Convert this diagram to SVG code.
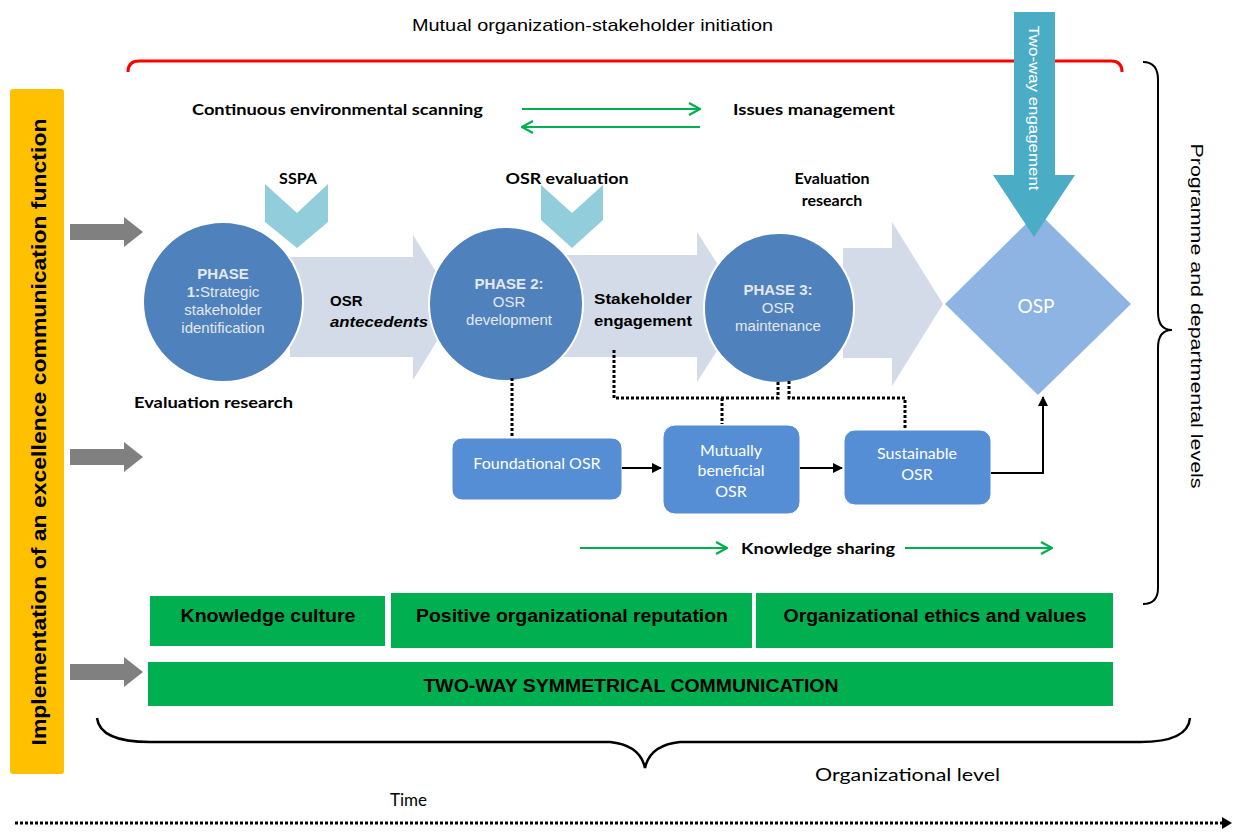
<svg xmlns="http://www.w3.org/2000/svg" width="1234" height="834" viewBox="0 0 1234 834">
<defs>
<style>
.ar{font-family:"Liberation Sans",Arial,sans-serif}
.ca{font-family:Lato,Carlito,"Liberation Sans",sans-serif}
.b{font-weight:bold}
.ph{fill:#e4e8ee;font-size:15px;text-anchor:middle}
.bx{fill:#ffffff;font-size:16px;text-anchor:middle}
.gb{fill:#00b050}
.gt{font-size:18px;font-weight:bold;fill:#000;text-anchor:middle}
.big{fill:#d3dbe8}
.circ{fill:#4f81bd;stroke:#ffffff;stroke-width:2}
.chev{fill:#92cddc}
.rb{fill:#558ed5;stroke:#ffffff;stroke-width:1}
.gray{fill:#808080}
.dot{fill:none;stroke:#000;stroke-width:3;stroke-dasharray:3 2}
.solid{fill:none;stroke:#000;stroke-width:2}
.green{fill:none;stroke:#00b050;stroke-width:2}
</style>
<marker id="ah" viewBox="0 0 10 10" refX="9" refY="5" markerWidth="5" markerHeight="5" orient="auto">
<path d="M0,0 L10,5 L0,10 z" fill="#000"/>
</marker>
<marker id="gh" viewBox="0 0 14 14" refX="13" refY="7" markerWidth="14" markerHeight="14" orient="auto" markerUnits="userSpaceOnUse">
<path d="M2,1 L13,7 L2,13" fill="none" stroke="#00b050" stroke-width="2.2"/>
</marker>
</defs>
<rect width="1234" height="834" fill="#ffffff"/>

<!-- top label and red bracket -->
<g id="mutual-initiation">
<text class="ar" x="412" y="31" font-size="17" textLength="361" lengthAdjust="spacingAndGlyphs">Mutual organization-stakeholder  initiation</text>
<path d="M128,72 Q128,61 139,61 L1111,61 Q1122,61 1122,72" fill="none" stroke="#ff0000" stroke-width="3"/>
</g>

<!-- left orange bar -->
<g id="implementation">
<rect x="10" y="89" width="54" height="685" rx="3" fill="#ffc000"/>
<text class="ar b" transform="translate(46,432) rotate(-90)" font-size="21" text-anchor="middle" textLength="627" lengthAdjust="spacingAndGlyphs">Implementation of  an excellence communication function</text>
</g>

<!-- gray arrows -->
<g id="gray-arrows">
<polygon class="gray" points="70,224 124,224 124,217 143,232 124,247 124,240 70,240"/>
<polygon class="gray" points="70,449 124,449 124,442 143,457 124,472 124,465 70,465"/>
<polygon class="gray" points="70,664 124,664 124,657 143,672 124,687 124,680 70,680"/>
</g>

<!-- scanning / issues -->
<g id="scanning">
<text class="ca b" x="192" y="115" font-size="16" textLength="291" lengthAdjust="spacingAndGlyphs">Continuous environmental scanning</text>
</g>
<g id="issues">
<text class="ca b" x="733" y="115" font-size="16" textLength="162" lengthAdjust="spacingAndGlyphs">Issues management</text>
</g>

<!-- large light arrows -->
<g id="flow-arrows">
<polygon class="big" points="290,257 413,257 413,235 458,307 413,380 413,357 290,357"/>
<polygon class="big" points="560,255 697,255 697,232 745,307 697,382 697,357 560,357"/>
<polygon class="big" points="843,248 892,248 892,222 943,304 892,386 892,358 843,358"/>
</g>

<!-- phases -->
<g id="phase1">
<circle class="circ" cx="223" cy="302" r="80"/>
<text class="ar ph" x="223" y="279"><tspan class="b">PHASE</tspan></text>
<text class="ar ph" x="223" y="297"><tspan class="b">1:</tspan>Strategic</text>
<text class="ar ph" x="223" y="315">stakeholder</text>
<text class="ar ph" x="223" y="333">identification</text>
</g>
<g id="phase2">
<circle class="circ" cx="506" cy="304" r="77"/>
<text class="ar ph b" x="509" y="289">PHASE 2:</text>
<text class="ar ph" x="509" y="307">OSR</text>
<text class="ar ph" x="509" y="325">development</text>
</g>
<g id="phase3">
<circle class="circ" cx="779" cy="308" r="75"/>
<text class="ar ph b" x="778" y="295">PHASE 3:</text>
<text class="ar ph" x="778" y="313">OSR</text>
<text class="ar ph" x="778" y="331">maintenance</text>
</g>

<!-- arrow labels -->
<g id="osr-antecedents">
<text class="ar b" x="330" y="306" font-size="15">OSR</text>
<text class="ar b" x="330" y="327" font-size="15" font-style="italic" textLength="98" lengthAdjust="spacingAndGlyphs">antecedents</text>
</g>
<g id="stakeholder-engagement">
<text class="ar b" x="594" y="304" font-size="15" textLength="98" lengthAdjust="spacingAndGlyphs">Stakeholder</text>
<text class="ar b" x="594" y="326" font-size="15" textLength="98" lengthAdjust="spacingAndGlyphs">engagement</text>
</g>

<!-- chevrons -->
<g id="sspa">
<polygon class="chev" points="265,184 297,213 328,184 328,222 297,248 265,222"/>
<text class="ca b" x="298" y="184" font-size="16" text-anchor="middle">SSPA</text>
</g>
<g id="osr-evaluation">
<polygon class="chev" points="541,185 572,213 603,185 603,220 572,248 541,220"/>
<text class="ca b" x="567" y="184" font-size="16" text-anchor="middle" textLength="123" lengthAdjust="spacingAndGlyphs">OSR evaluation</text>
</g>
<g id="evaluation-research-top">
<text class="ca b" x="832" y="184" font-size="16" text-anchor="middle">Evaluation</text>
<text class="ca b" x="832" y="206" font-size="16" text-anchor="middle">research</text>
</g>
<g id="evaluation-research-left">
<text class="ca b" x="134" y="408" font-size="16" textLength="159" lengthAdjust="spacingAndGlyphs">Evaluation research</text>
</g>

<!-- OSP diamond and two-way engagement -->
<g id="osp">
<polygon points="945,304 1038,212 1131,304 1038,395" fill="#8eb4e3"/>
<text class="ca" x="1036" y="313" font-size="19" fill="#ffffff" text-anchor="middle">OSP</text>
</g>
<g id="two-way-engagement">
<polygon points="1014,12 1055,12 1055,175 1075,175 1034,237 993,175 1014,175" fill="#4bacc6"/>
<text class="ar" transform="translate(1029,108) rotate(90)" font-size="15" fill="#ffffff" text-anchor="middle" textLength="165" lengthAdjust="spacingAndGlyphs">Two-way engagement</text>
</g>

<!-- OSR boxes -->
<g id="foundational">
<rect class="rb" x="452" y="438" width="170" height="62" rx="10"/>
<text class="ca bx" x="537" y="469">Foundational OSR</text>
</g>
<g id="mutually">
<rect class="rb" x="663" y="425" width="137" height="89" rx="12"/>
<text class="ca bx" x="731" y="456">Mutually</text>
<text class="ca bx" x="731" y="476">beneficial</text>
<text class="ca bx" x="731" y="497">OSR</text>
</g>
<g id="sustainable">
<rect class="rb" x="844" y="430" width="147" height="75" rx="11"/>
<text class="ca bx" x="917" y="459">Sustainable</text>
<text class="ca bx" x="917" y="480">OSR</text>
</g>

<!-- connectors -->
<g id="connectors">
<path class="dot" d="M512,378 L512,438"/>
<path class="dot" d="M614,350 L614,398 L778,398 L778,381"/>
<path class="dot" d="M789,381 L789,398 L905,398 L905,428"/>
<path class="dot" d="M722,398 L722,424"/>
<path class="solid" d="M622,468 L661,468" marker-end="url(#ah)"/>
<path class="solid" d="M800,468 L842,468" marker-end="url(#ah)"/>
<path class="solid" d="M991,473 L1043,473 L1043,397" marker-end="url(#ah)"/>
<path class="green" d="M522,109 L700,109" marker-end="url(#gh)"/>
<path class="green" d="M700,127 L522,127" marker-end="url(#gh)"/>
<path class="green" d="M580,548 L727,548" marker-end="url(#gh)"/>
<path class="green" d="M905,548 L1052,548" marker-end="url(#gh)"/>
</g>

<g id="knowledge-sharing">
<text class="ca b" x="741" y="554" font-size="16" textLength="154" lengthAdjust="spacingAndGlyphs">Knowledge sharing</text>
</g>

<!-- right brace -->
<g id="programme-levels">
<path d="M1143,62 Q1158,62 1158,80 L1158,312 Q1158,330 1172,330 Q1158,330 1158,348 L1158,588 Q1158,604 1143,604" fill="none" stroke="#000" stroke-width="2"/>
<text class="ar" transform="translate(1191,316) rotate(90)" font-size="17" text-anchor="middle" textLength="345" lengthAdjust="spacingAndGlyphs">Programme  and departmental  levels</text>
</g>

<!-- green bars -->
<g id="knowledge-culture">
<rect class="gb" x="150" y="596" width="235" height="50"/>
<text class="ar gt" x="268" y="622" textLength="175" lengthAdjust="spacingAndGlyphs">Knowledge culture</text>
</g>
<g id="positive-reputation">
<rect class="gb" x="391" y="593" width="361" height="55"/>
<text class="ar gt" x="572" y="622" textLength="312" lengthAdjust="spacingAndGlyphs">Positive organizational reputation</text>
</g>
<g id="ethics-values">
<rect class="gb" x="756" y="593" width="357" height="55"/>
<text class="ar gt" x="935" y="622" textLength="303" lengthAdjust="spacingAndGlyphs">Organizational ethics and values</text>
</g>
<g id="two-way-symmetrical">
<rect class="gb" x="148" y="662" width="965" height="44"/>
<text class="ar gt" x="631" y="692" textLength="415" lengthAdjust="spacingAndGlyphs">TWO-WAY SYMMETRICAL  COMMUNICATION</text>
</g>

<!-- bottom brace -->
<g id="organizational-level">
<path d="M97,718 Q100,742 150,742 L610,742 Q640,745 645,768 Q650,745 680,742 L1140,742 Q1188,742 1190,718" fill="none" stroke="#000" stroke-width="2.5"/>
<text class="ca" x="815" y="781" font-size="17" textLength="185" lengthAdjust="spacingAndGlyphs">Organizational level</text>
</g>

<!-- time -->
<g id="time">
<text class="ca" x="390" y="806" font-size="17">Time</text>
<path d="M15,823 L1222,823" fill="none" stroke="#000" stroke-width="3" stroke-dasharray="3 2"/>
<polygon points="1222,817 1232,823 1222,829" fill="#000"/>
</g>
</svg>
